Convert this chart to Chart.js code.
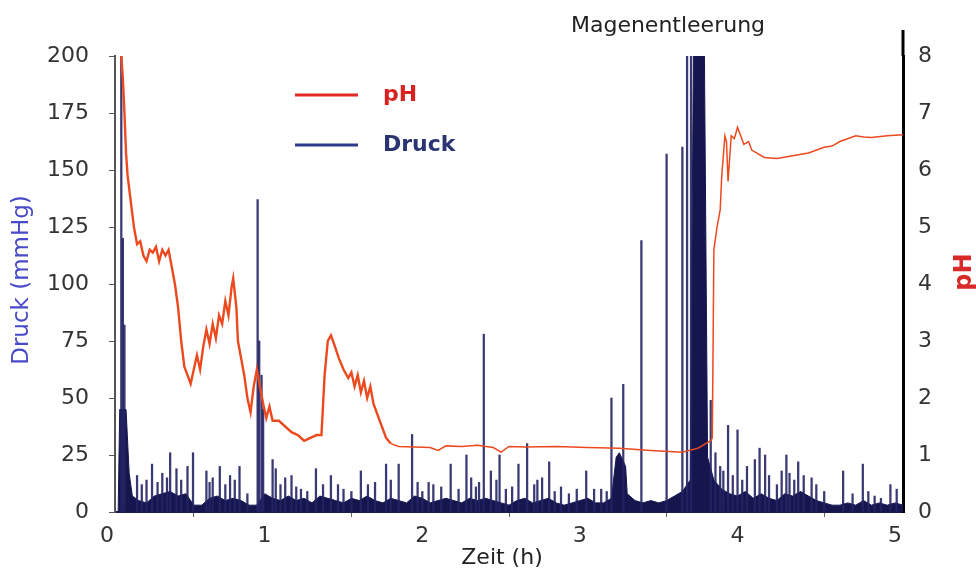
<!DOCTYPE html>
<html>
<head>
<meta charset="utf-8">
<script src="https://cdn.jsdelivr.net/npm/chart.js@4.4.0/dist/chart.umd.min.js"></script>
<style>
  body { margin: 0; background: #fff; }
  canvas { display: block; }
</style>
</head>
<body>
<canvas id="chart" width="976" height="572"></canvas>
<script>
// pH trace (right axis), time in hours
const phTime = [
  0.04, 0.05, 0.06, 0.07, 0.08, 0.10, 0.12, 0.14, 0.16, 0.18,
  0.20, 0.22, 0.24, 0.26, 0.28, 0.30, 0.32, 0.34, 0.36, 0.38,
  0.40, 0.42, 0.44, 0.46, 0.48, 0.50, 0.52, 0.54, 0.56, 0.58,
  0.60, 0.62, 0.64, 0.66, 0.68, 0.70, 0.72, 0.74, 0.75, 0.77,
  0.78, 0.80, 0.82, 0.84, 0.86, 0.88, 0.90, 0.92, 0.94, 0.96,
  0.98, 1.00, 1.04, 1.08, 1.12, 1.16, 1.20, 1.24, 1.28, 1.31,
  1.33, 1.35, 1.37, 1.39, 1.42, 1.45, 1.48, 1.50, 1.52, 1.54,
  1.56, 1.58, 1.60, 1.62, 1.64, 1.66, 1.68, 1.70, 1.72, 1.75,
  1.80, 1.90, 2.00, 2.05, 2.10, 2.20, 2.30, 2.40, 2.45, 2.50,
  2.60, 2.80, 3.00, 3.20, 3.40, 3.60, 3.70, 3.78, 3.79, 3.80,
  3.82, 3.84, 3.85, 3.87, 3.88, 3.89, 3.91, 3.93, 3.95, 3.97,
  3.99, 4.02, 4.04, 4.07, 4.12, 4.20, 4.30, 4.40, 4.50, 4.55,
  4.60, 4.70, 4.75, 4.80, 4.90, 5.00
];
const phValue = [
  8.0, 7.6, 7.0, 6.3, 5.9, 5.45, 5.0, 4.7, 4.75, 4.5,
  4.4, 4.6, 4.55, 4.65, 4.4, 4.6, 4.5, 4.6, 4.3, 4.0,
  3.6, 3.0, 2.55, 2.4, 2.25, 2.5, 2.75, 2.5, 2.9, 3.2,
  2.95, 3.3, 3.05, 3.45, 3.3, 3.7, 3.45, 3.95, 4.1, 3.6,
  3.0, 2.7, 2.4, 2.0, 1.75, 2.2, 2.5, 2.2, 1.9, 1.65,
  1.85, 1.6, 1.6, 1.5, 1.4, 1.35, 1.25, 1.3, 1.35, 1.35,
  2.4, 3.0, 3.1, 2.95, 2.7, 2.5, 2.35, 2.45, 2.2, 2.4,
  2.1, 2.3, 2.0, 2.2, 1.9, 1.75, 1.6, 1.45, 1.3, 1.2,
  1.15, 1.14, 1.13, 1.08, 1.16, 1.15, 1.17, 1.13, 1.05, 1.15,
  1.14, 1.15, 1.13, 1.12, 1.08, 1.05, 1.12, 1.25, 1.3, 4.6,
  5.0, 5.3, 5.9, 6.6, 6.5, 5.8, 6.6, 6.55, 6.75, 6.6,
  6.45, 6.5, 6.35, 6.3, 6.22, 6.2, 6.25, 6.3, 6.4, 6.42,
  6.5, 6.6, 6.58, 6.57, 6.6, 6.62
];

// pressure floor (left axis, mmHg)
const druckBaseTime = [
  0.02, 0.03, 0.07, 0.09, 0.11, 0.15, 0.20, 0.25, 0.30, 0.35,
  0.40, 0.45, 0.50, 0.55, 0.60, 0.65, 0.70, 0.75, 0.80, 0.85,
  0.90, 0.95, 1.00, 1.05, 1.10, 1.15, 1.20, 1.25, 1.30, 1.35,
  1.40, 1.45, 1.50, 1.55, 1.60, 1.65, 1.70, 1.75, 1.80, 1.85,
  1.90, 1.95, 2.00, 2.05, 2.10, 2.15, 2.20, 2.25, 2.30, 2.35,
  2.40, 2.45, 2.50, 2.55, 2.60, 2.65, 2.70, 2.75, 2.80, 2.85,
  2.90, 2.95, 3.00, 3.05, 3.10, 3.15, 3.18, 3.20, 3.24, 3.25,
  3.30, 3.35, 3.40, 3.45, 3.50, 3.55, 3.60, 3.65, 3.67, 3.74,
  3.76, 3.80, 3.85, 3.90, 3.95, 4.00, 4.05, 4.10, 4.15, 4.20,
  4.25, 4.30, 4.35, 4.40, 4.45, 4.50, 4.55, 4.60, 4.65, 4.70,
  4.75, 4.80, 4.85, 4.90, 4.95, 5.00
];
const druckBaseValue = [
  0, 45, 45, 17, 7, 5, 4, 7, 8, 9,
  7, 8, 3, 3, 6, 7, 5, 6, 5, 3,
  3, 8, 6, 5, 7, 5, 6, 4, 7, 6,
  5, 4, 6, 5, 7, 5, 4, 6, 5, 4,
  7, 6, 4, 5, 6, 5, 4, 6, 5, 6,
  5, 4, 3, 5, 6, 4, 5, 6, 4, 3,
  4, 5, 6, 4, 4, 6, 24, 26, 20, 8,
  5, 4, 5, 4, 5, 7, 9, 14, 200, 200,
  24, 14, 10, 8, 7, 9, 6, 8, 6, 5,
  8, 7, 9, 7, 5, 4, 3, 3, 4, 3,
  5, 3, 4, 3, 4, 3
];

// single pressure peaks (left axis, mmHg)
const spikeTime = [
  0.04, 0.05, 0.06, 0.14, 0.17, 0.20, 0.235, 0.27, 0.30, 0.33,
  0.35, 0.39, 0.42, 0.46, 0.495, 0.58, 0.60, 0.62, 0.665, 0.70,
  0.73, 0.76, 0.79, 0.84, 0.905, 0.915, 0.93, 0.94, 1.00, 1.02,
  1.05, 1.08, 1.12, 1.15, 1.18, 1.22, 1.275, 1.32, 1.37, 1.415,
  1.45, 1.50, 1.56, 1.605, 1.65, 1.72, 1.75, 1.80, 1.885, 1.92,
  1.95, 1.99, 2.02, 2.07, 2.13, 2.18, 2.23, 2.26, 2.29, 2.31,
  2.34, 2.385, 2.42, 2.44, 2.48, 2.52, 2.56, 2.615, 2.66, 2.68,
  2.71, 2.755, 2.79, 2.83, 2.88, 2.93, 2.99, 3.04, 3.085, 3.12,
  3.15, 3.225, 3.34, 3.50, 3.60, 3.63, 3.655, 3.78, 3.81, 3.84,
  3.86, 3.89, 3.92, 3.95, 3.98, 4.01, 4.06, 4.09, 4.125, 4.15,
  4.20, 4.23, 4.26, 4.28, 4.31, 4.335, 4.37, 4.42, 4.45, 4.50,
  4.62, 4.68, 4.745, 4.78, 4.82, 4.86, 4.92, 4.96
];
const spikeValue = [
  200, 120, 82, 16, 12, 14, 21, 13, 17, 15,
  26, 19, 14, 20, 26, 18, 13, 15, 20, 12,
  16, 14, 20, 8, 137, 75, 60, 45, 23, 19,
  12, 15, 16, 11, 10, 9, 19, 12, 16, 12,
  10, 9, 18, 12, 13, 21, 14, 21, 34, 13,
  9, 13, 12, 11, 21, 10, 25, 15, 11, 13,
  78, 18, 14, 25, 10, 11, 21, 30, 12, 14,
  15, 22, 9, 11, 8, 10, 18, 10, 10, 9,
  50, 56, 119, 157, 160, 200, 200, 49, 26, 20,
  18, 38, 16, 36, 14, 20, 23, 28, 25, 16,
  12, 18, 25, 17, 14, 22, 16, 15, 12, 9,
  18, 8, 21, 9, 7, 6, 12, 10
];

const xTicks = [0, 1, 2, 3, 4, 5];
const druckTicks = [0, 25, 50, 75, 100, 125, 150, 175, 200];
const phTicks = [0, 1, 2, 3, 4, 5, 6, 7, 8];

const zip = (xs, ys) => xs.map((x, i) => ({ x: x, y: ys[i] }));

Chart.defaults.font.family = "'DejaVu Sans', sans-serif";

// texts and legend outside the scales
const decor = {
  id: "decor",
  afterDraw(chart) {
    const c = chart.ctx;
    const a = chart.chartArea;
    c.save();

    // right axis line goes a bit above the plot
    c.strokeStyle = "#000";
    c.lineWidth = 3;
    c.beginPath();
    c.moveTo(a.right, a.top - 26);
    c.lineTo(a.right, a.top);
    c.stroke();

    c.textBaseline = "middle";

    // legend
    c.lineWidth = 3;
    c.strokeStyle = "#e02a22";
    c.beginPath(); c.moveTo(295, 95); c.lineTo(358, 95); c.stroke();
    c.strokeStyle = "#2c3a8c";
    c.beginPath(); c.moveTo(295, 145); c.lineTo(358, 145); c.stroke();
    c.font = "bold 22px 'DejaVu Sans'";
    c.textAlign = "left";
    c.fillStyle = "#d82222";
    c.fillText("pH", 383, 95);
    c.fillStyle = "#2a3472";
    c.fillText("Druck", 383, 145);

    // annotation and x title
    c.font = "22px 'DejaVu Sans'";
    c.textAlign = "center";
    c.fillStyle = "#222";
    c.fillText("Magenentleerung", 668, 26);
    c.fillText("Zeit (h)", 502, 558);

    // rotated axis titles
    c.save();
    c.translate(22, 280);
    c.rotate(-Math.PI / 2);
    c.font = "23px 'DejaVu Sans'";
    c.fillStyle = "#4a4ac8";
    c.fillText("Druck (mmHg)", 0, 0);
    c.restore();

    c.save();
    c.translate(965, 272);
    c.rotate(-Math.PI / 2);
    c.font = "bold 24px 'DejaVu Sans'";
    c.fillStyle = "#d82a2a";
    c.fillText("pH", 0, 0);
    c.restore();

    c.restore();
  }
};

new Chart(document.getElementById("chart"), {
  type: "line",
  data: {
    datasets: [
      {
        type: "line",
        label: "pH",
        data: zip(phTime, phValue),
        yAxisID: "y1",
        borderColor: "#ec4a1e",
        borderWidth: 1.5,
        pointRadius: 0,
        tension: 0,
        order: 0,
        segment: {
          borderWidth: (s) => (s.p1.parsed.x <= 1.76 ? 2.4 : 1.5)
        }
      },
      {
        type: "bar",
        label: "Druck",
        data: zip(spikeTime, spikeValue),
        yAxisID: "y",
        backgroundColor: "rgba(36, 36, 100, 0.9)",
        barThickness: 1.6,
        grouped: false,
        order: 1
      },
      {
        type: "line",
        label: "Druck Basis",
        data: zip(druckBaseTime, druckBaseValue),
        yAxisID: "y",
        borderColor: "#16164f",
        backgroundColor: "#16164f",
        borderWidth: 1,
        fill: "origin",
        pointRadius: 0,
        tension: 0,
        order: 2
      }
    ]
  },
  options: {
    responsive: false,
    animation: false,
    layout: { padding: { top: 56, left: 0, right: 0, bottom: 0 } },
    plugins: { legend: { display: false }, tooltip: { enabled: false } },
    scales: {
      x: {
        type: "linear",
        min: 0,
        max: 5,
        offset: false,
        afterFit: (s) => { s.height = 60; },
        afterBuildTicks: (s) => { s.ticks = xTicks.map((v) => ({ value: v })); },
        border: { color: "#1b1b55", width: 2 },
        grid: { drawOnChartArea: false, tickLength: 5, color: "#666" },
        ticks: { color: "#333", font: { size: 22 }, padding: 6, labelOffset: -8, maxRotation: 0 }
      },
      y: {
        position: "left",
        min: 0,
        max: 200,
        afterFit: (s) => { s.width = 115; },
        afterBuildTicks: (s) => { s.ticks = druckTicks.map((v) => ({ value: v })); },
        border: { color: "#555", width: 2 },
        grid: { drawOnChartArea: false, tickLength: 6, color: "#555" },
        ticks: { color: "#333", font: { size: 22 }, padding: 20 }
      },
      y1: {
        position: "right",
        min: 0,
        max: 8,
        afterFit: (s) => { s.width = 73; },
        afterBuildTicks: (s) => { s.ticks = phTicks.map((v) => ({ value: v })); },
        border: { color: "#000", width: 3 },
        grid: { display: false, drawTicks: false, tickLength: 0 },
        ticks: { color: "#333", font: { size: 22 }, padding: 15 }
      }
    }
  },
  plugins: [decor]
});
</script>
</body>
</html>
